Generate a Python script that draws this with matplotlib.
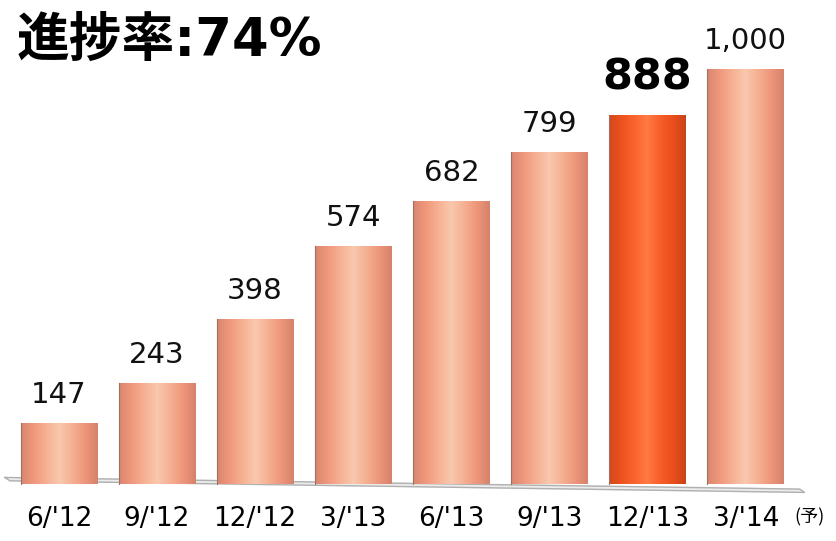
import numpy as np
import matplotlib.pyplot as plt
from matplotlib.colors import LinearSegmentedColormap

plt.rcParams['font.family'] = ['DejaVu Sans', 'Noto Sans CJK JP']

categories = ["6/'12", "9/'12", "12/'12", "3/'13", "6/'13", "9/'13", "12/'13", "3/'14"]
values = [147, 243, 398, 574, 682, 799, 888, 1000]
value_labels = ["147", "243", "398", "574", "682", "799", "888", "1,000"]
highlight = 6
title = "進捗率:74%"

fig = plt.figure(figsize=(8.37, 5.41), dpi=100)
ax = fig.add_axes([0, 0, 1, 1])
ax.set_xlim(-0.6, 7.93)
ax.set_ylim(-137, 1166)
ax.axis('off')

normal_cmap = LinearSegmentedColormap.from_list(
    'n', ['#d98670', '#f0987c', '#f6b194', '#f9c8ae', '#f5b092', '#ee967a', '#d5826c'])
hi_cmap = LinearSegmentedColormap.from_list(
    'h', ['#d2481c', '#ee521e', '#fa6430', '#ff7a44', '#f85e28', '#ea4e1c', '#c8441a'])

# floor plane
ax.fill([-0.55, 7.55, 7.6, -0.5], [16, -12, -20, 8], color='#ececec', zorder=1)
ax.plot([-0.55, 7.55, 7.6, -0.5, -0.55], [16, -12, -20, 8, 16], color='#b0b0b0', lw=1.0, zorder=1)

x = np.arange(len(values))
bars = ax.bar(x, values, width=0.78, color='none', edgecolor='none', zorder=3)
grad = np.linspace(0, 1, 256).reshape(1, -1)
for i, b in enumerate(bars):
    x0, w, h = b.get_x(), b.get_width(), b.get_height()
    cmap = hi_cmap if i == highlight else normal_cmap
    im = ax.imshow(grad, cmap=cmap, aspect='auto', extent=[x0, x0 + w, 0, h], zorder=3)
    im.set_clip_path(b)
    ax.plot([x0, x0], [0, h], color='#a07060', lw=0.8, zorder=4)

for i, (v, lab) in enumerate(zip(values, value_labels)):
    if i == highlight:
        ax.annotate(lab, (i, v), xytext=(0, 12), textcoords='offset points',
                    ha='center', va='bottom', fontsize=31, fontweight='bold', color='black')
    else:
        ax.annotate(lab, (i, v), xytext=(0, 10), textcoords='offset points',
                    ha='center', va='bottom', fontsize=21, color='#111111')

for i, c in enumerate(categories):
    ax.text(i, -83, c, ha='center', va='center', fontsize=19, color='black')
ax.text(7.65, -80, "(予)", ha='center', va='center', fontsize=13, color='black',
        family=['Noto Sans CJK JP', 'DejaVu Sans'])

fig.text(0.02, 0.925, title, ha='left', va='center', fontsize=38, fontweight='bold')

fig.savefig('out.png', dpi=100)
